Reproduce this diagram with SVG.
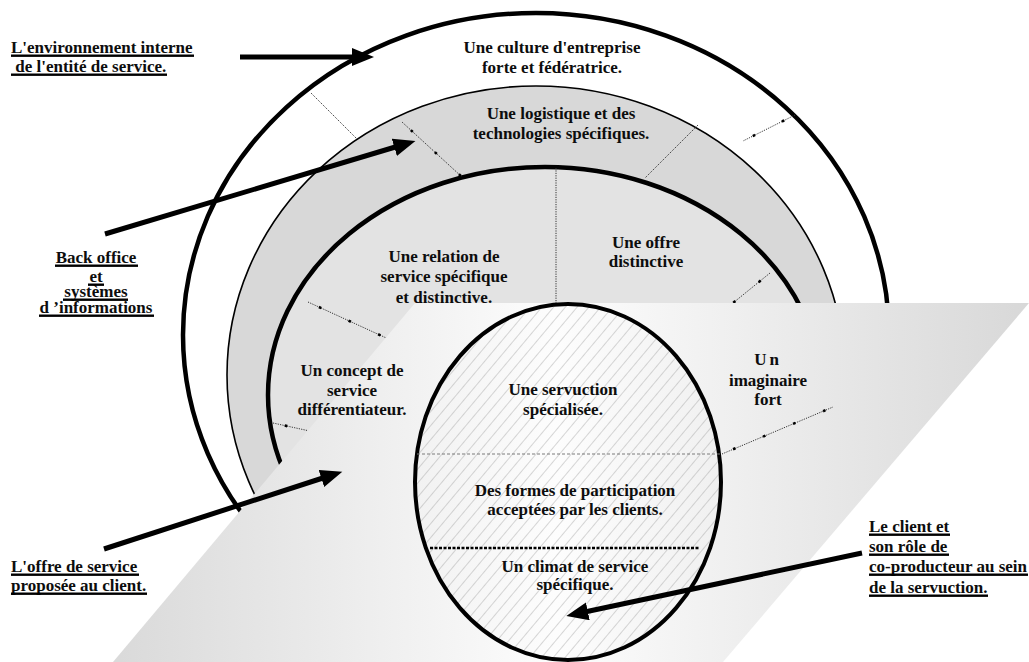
<svg xmlns="http://www.w3.org/2000/svg" width="1029" height="662" viewBox="0 0 1029 662">
  <style>
    .t { font-family: "Liberation Serif", "Times New Roman", serif; font-weight: bold; font-size: 17px; fill: #0d0d0d; text-anchor: middle; }
    .side { text-anchor: start; }
    .ul { fill: #000; }
    .ring { stroke: #000; }
    .rad { fill: none; stroke: #333; stroke-width: 1; stroke-dasharray: 1.2 1.2; }
    .radk { fill: none; stroke: #000; stroke-width: 2.6; stroke-dasharray: 2.6 30; stroke-dashoffset: -12; }
    .arrow { fill: none; stroke: #000; stroke-width: 5; marker-end: url(#head); }
  </style>
  <defs>
    <marker id="head" markerUnits="userSpaceOnUse" markerWidth="23" markerHeight="19" refX="8" refY="9" orient="auto">
      <path d="M0,0 L22,9 L0,18 z" fill="#000"/>
    </marker>
    <linearGradient id="floor" gradientUnits="userSpaceOnUse" x1="120" y1="480" x2="1029" y2="480">
      <stop offset="0" stop-color="#dadada"/>
      <stop offset="0.48" stop-color="#fdfdfd"/>
      <stop offset="1" stop-color="#d8d8d8"/>
    </linearGradient>
    <pattern id="hatch" patternUnits="userSpaceOnUse" width="9" height="9" patternTransform="rotate(40)">
      <line x1="0" y1="0" x2="0" y2="9" stroke="#8c8c8c" stroke-width="0.7"/>
    </pattern>
  </defs>

  <!-- concentric rings of the service organisation -->
  <g id="ring-culture">
    <ellipse cx="536" cy="335" rx="353" ry="322" fill="#fff" class="ring" stroke-width="4.5"/>
  </g>
  <g id="ring-logistics">
    <ellipse cx="536" cy="375" rx="309" ry="289" fill="#d8d8d8" class="ring" stroke-width="1.6"/>
  </g>
  <g id="ring-offer">
    <ellipse cx="545" cy="395" rx="277" ry="228" fill="#e3e3e3" class="ring" stroke-width="4.5"/>
  </g>

  <!-- sector dividers in the upper rings -->
  <g id="dividers-upper">
    <line class="rad" x1="311" y1="93" x2="357" y2="139"/>
    <line class="rad" x1="402" y1="122" x2="462" y2="177"/>
    <line class="radk" x1="402" y1="122" x2="462" y2="177"/>
    <line class="rad" x1="698" y1="125" x2="645" y2="178"/>
    <line class="rad" x1="795" y1="115" x2="743" y2="141"/>
    <line class="radk" x1="795" y1="115" x2="743" y2="141"/>
    <line class="rad" x1="556" y1="168" x2="556" y2="303"/>
    <line class="rad" x1="308" y1="302" x2="445" y2="365"/>
    <line class="radk" x1="308" y1="302" x2="445" y2="365"/>
    <line class="rad" x1="770" y1="273" x2="675" y2="350"/>
    <line class="radk" x1="770" y1="273" x2="675" y2="350"/>
    <line class="rad" x1="273" y1="423" x2="415" y2="454"/>
    <line class="radk" x1="273" y1="423" x2="415" y2="454"/>
  </g>

  <!-- the servuction floor -->
  <g id="floor">
    <polygon points="415,303 1029,303 723,662 113,662" fill="url(#floor)"/>
  </g>

  <g id="dividers-floor">
    <line class="rad" x1="722" y1="454" x2="833" y2="407"/>
    <line class="radk" x1="722" y1="454" x2="833" y2="407"/>
  </g>

  <!-- client core -->
  <g id="servuction">
    <ellipse cx="568" cy="482" rx="153" ry="178" fill="url(#hatch)" stroke="#000" stroke-width="4"/>
    <line x1="417" y1="454" x2="720" y2="454" fill="none" stroke="#7a7a7a" stroke-width="1" stroke-dasharray="3 2"/>
    <line x1="430" y1="548" x2="700" y2="548" fill="none" stroke="#000" stroke-width="2.4" stroke-dasharray="3 1.5"/>
  </g>

  <!-- pointers from the side captions -->
  <g id="connectors">
    <line class="arrow" x1="240" y1="57" x2="360" y2="57"/>
    <line class="arrow" x1="105" y1="234" x2="402" y2="145"/>
    <line class="arrow" x1="104" y1="549" x2="329" y2="476"/>
    <line class="arrow" x1="862" y1="553" x2="580" y2="613"/>
  </g>

  <!-- ring labels -->
  <g id="label-culture">
    <text class="t" x="552" y="53">Une culture d'entreprise</text>
    <text class="t" x="552" y="73">forte et fédératrice.</text>
  </g>
  <g id="label-logistics">
    <text class="t" x="561" y="119">Une logistique et des</text>
    <text class="t" x="561" y="139">technologies spécifiques.</text>
  </g>
  <g id="label-relation">
    <text class="t" x="444" y="262">Une relation de</text>
    <text class="t" x="444" y="282">service spécifique</text>
    <text class="t" x="444" y="303">et distinctive.</text>
  </g>
  <g id="label-offer">
    <text class="t" x="646" y="248">Une offre</text>
    <text class="t" x="646" y="267">distinctive</text>
  </g>
  <g id="label-concept">
    <text class="t" x="352" y="376">Un concept de</text>
    <text class="t" x="352" y="396">service</text>
    <text class="t" x="352" y="415">différentiateur.</text>
  </g>
  <g id="label-imaginary">
    <text class="t" x="768" y="365" letter-spacing="3">Un</text>
    <text class="t" x="768" y="386">imaginaire</text>
    <text class="t" x="768" y="405">fort</text>
  </g>
  <g id="label-servuction">
    <text class="t" x="563" y="395">Une servuction</text>
    <text class="t" x="563" y="415">spécialisée.</text>
  </g>
  <g id="label-participation">
    <text class="t" x="575" y="496">Des formes de participation</text>
    <text class="t" x="575" y="515">acceptées par les clients.</text>
  </g>
  <g id="label-climate">
    <text class="t" x="575" y="572">Un climat de service</text>
    <text class="t" x="575" y="590">spécifique.</text>
  </g>

  <!-- side captions, underlined -->
  <g id="caption-environment">
    <text class="t side" x="11" y="53">L'environnement interne</text>
    <text class="t side" x="11" y="72" xml:space="preserve"> de l'entité de service.</text>
    <rect class="ul" x="11" y="54.5" width="183" height="2.4"/>
    <rect class="ul" x="11" y="73.5" width="156" height="2.4"/>
  </g>
  <g id="caption-backoffice">
    <text class="t" x="96" y="263">Back office</text>
    <text class="t" x="96" y="282">et</text>
    <text class="t" x="96" y="297">systèmes</text>
    <text class="t" x="96" y="313">d ’informations</text>
    <rect class="ul" x="55" y="264.5" width="83" height="2.4"/>
    <rect class="ul" x="88" y="283.5" width="16" height="2.4"/>
    <rect class="ul" x="63" y="298.5" width="65" height="2.4"/>
    <rect class="ul" x="39" y="314.5" width="115" height="2.4"/>
  </g>
  <g id="caption-offer">
    <text class="t side" x="11" y="572">L'offre de service</text>
    <text class="t side" x="11" y="591">proposée au client.</text>
    <rect class="ul" x="11" y="573.5" width="128" height="2.4"/>
    <rect class="ul" x="11" y="592.5" width="136" height="2.4"/>
  </g>
  <g id="caption-client">
    <text class="t side" x="869" y="532">Le client et</text>
    <text class="t side" x="869" y="552">son rôle de</text>
    <text class="t side" x="869" y="572">co-producteur au sein</text>
    <text class="t side" x="869" y="593">de la servuction.</text>
    <rect class="ul" x="869" y="533.5" width="81" height="2.4"/>
    <rect class="ul" x="869" y="553.5" width="80" height="2.4"/>
    <rect class="ul" x="869" y="573.5" width="159" height="2.4"/>
    <rect class="ul" x="869" y="594.5" width="119" height="2.4"/>
  </g>
</svg>
